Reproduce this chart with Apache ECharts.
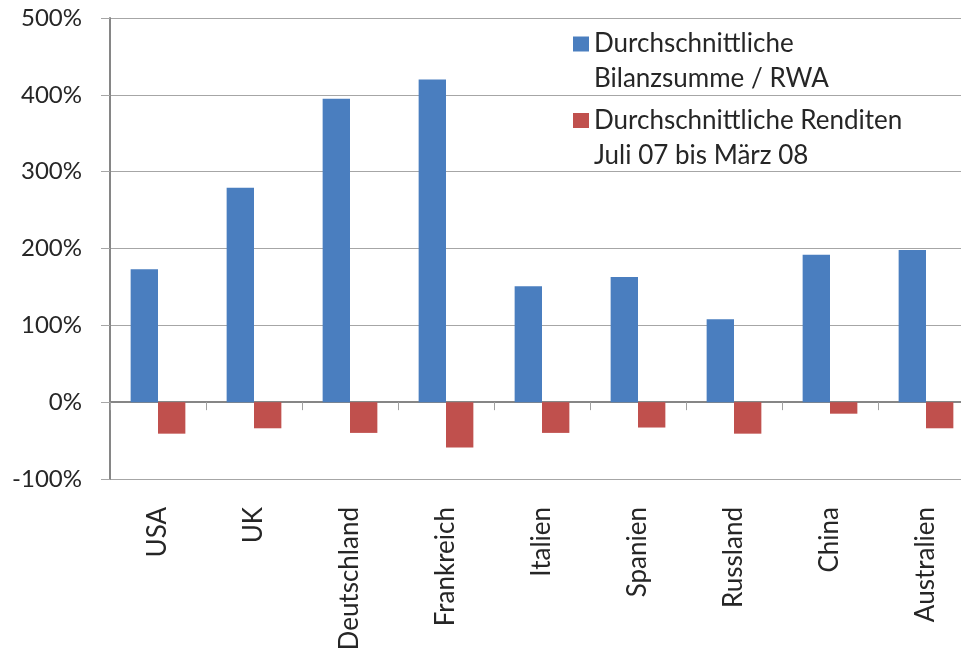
<!DOCTYPE html>
<html><head><meta charset="utf-8">
<script src="https://cdn.jsdelivr.net/npm/echarts@6/dist/echarts.min.js"></script>
<style>html,body{margin:0;padding:0;background:#fff}#c{width:961px;height:648px}</style>
</head><body><div id="c"></div>
<script>
const categories = ['USA', 'UK', 'Deutschland', 'Frankreich', 'Italien', 'Spanien', 'Russland', 'China', 'Australien'];
const bilanzsummeRwa = [173, 279, 395, 420, 151, 163, 108, 192, 198];
const renditen = [-41, -34, -40, -59, -40, -33, -41, -15, -34];
const seriesNames = ['Durchschnittliche Bilanzsumme / RWA', 'Durchschnittliche Renditen Juli 07 bis März 08'];
const legendLines = {
  'Durchschnittliche Bilanzsumme / RWA': ['Durchschnittliche', 'Bilanzsumme / RWA'],
  'Durchschnittliche Renditen Juli 07 bis März 08': ['Durchschnittliche Renditen', 'Juli 07 bis März 08']
};
const FONT = 'Lato';
const TXT = '#262626';
const chart = echarts.init(document.getElementById('c'), null, {renderer: 'canvas'});
function legendFor(i, top) {
  return {
    data: [seriesNames[i]],
    orient: 'vertical',
    left: 573,
    top: top,
    padding: 0,
    icon: 'rect',
    itemWidth: 16,
    itemHeight: 15,
    selectedMode: false,
    formatter: n => '\n' + legendLines[n].join('\n'),
    textStyle: {fontFamily: FONT, fontSize: 26, lineHeight: 35, color: TXT}
  };
}
chart.setOption({
  animation: false,
  backgroundColor: '#fff',
  grid: {left: 110, top: 18, width: 864, height: 461, containLabel: false, outerBoundsMode: 'none'},
  legend: [legendFor(0, -8.5), legendFor(1, 68)],
  xAxis: [{
    type: 'category', data: categories, position: 'bottom',
    axisLine: {show: false, onZero: false},
    axisTick: {show: false},
    splitLine: {show: false},
    axisLabel: {rotate: 90, margin: 28, fontFamily: FONT, fontSize: 26, color: TXT, interval: 0}
  }, {
    type: 'category', data: categories, position: 'bottom',
    axisLine: {show: true, onZero: true, lineStyle: {color: '#868686', width: 2}},
    axisTick: {show: true, length: 8, lineStyle: {color: '#a0a0a0', width: 1}},
    axisLabel: {show: false},
    splitLine: {show: false}
  }],
  yAxis: {
    type: 'value', min: -100, max: 500, interval: 100,
    axisLine: {show: true, lineStyle: {color: '#868686', width: 2}},
    axisTick: {show: true, length: 9, lineStyle: {color: '#a6a6a6', width: 1}},
    axisLabel: {formatter: '{value}%', margin: 28, fontFamily: FONT, fontSize: 24, color: TXT},
    splitLine: {show: true, lineStyle: {color: '#a6a6a6', width: 1}}
  },
  series: [{
    name: seriesNames[0], type: 'bar', xAxisIndex: 0, data: bilanzsummeRwa,
    barGap: '0%', barCategoryGap: '43%',
    itemStyle: {color: '#4a7ebf'}
  }, {
    name: seriesNames[1], type: 'bar', xAxisIndex: 0, data: renditen,
    barGap: '0%', barCategoryGap: '43%',
    itemStyle: {color: '#c0504d'}
  }]
});
</script></body></html>
